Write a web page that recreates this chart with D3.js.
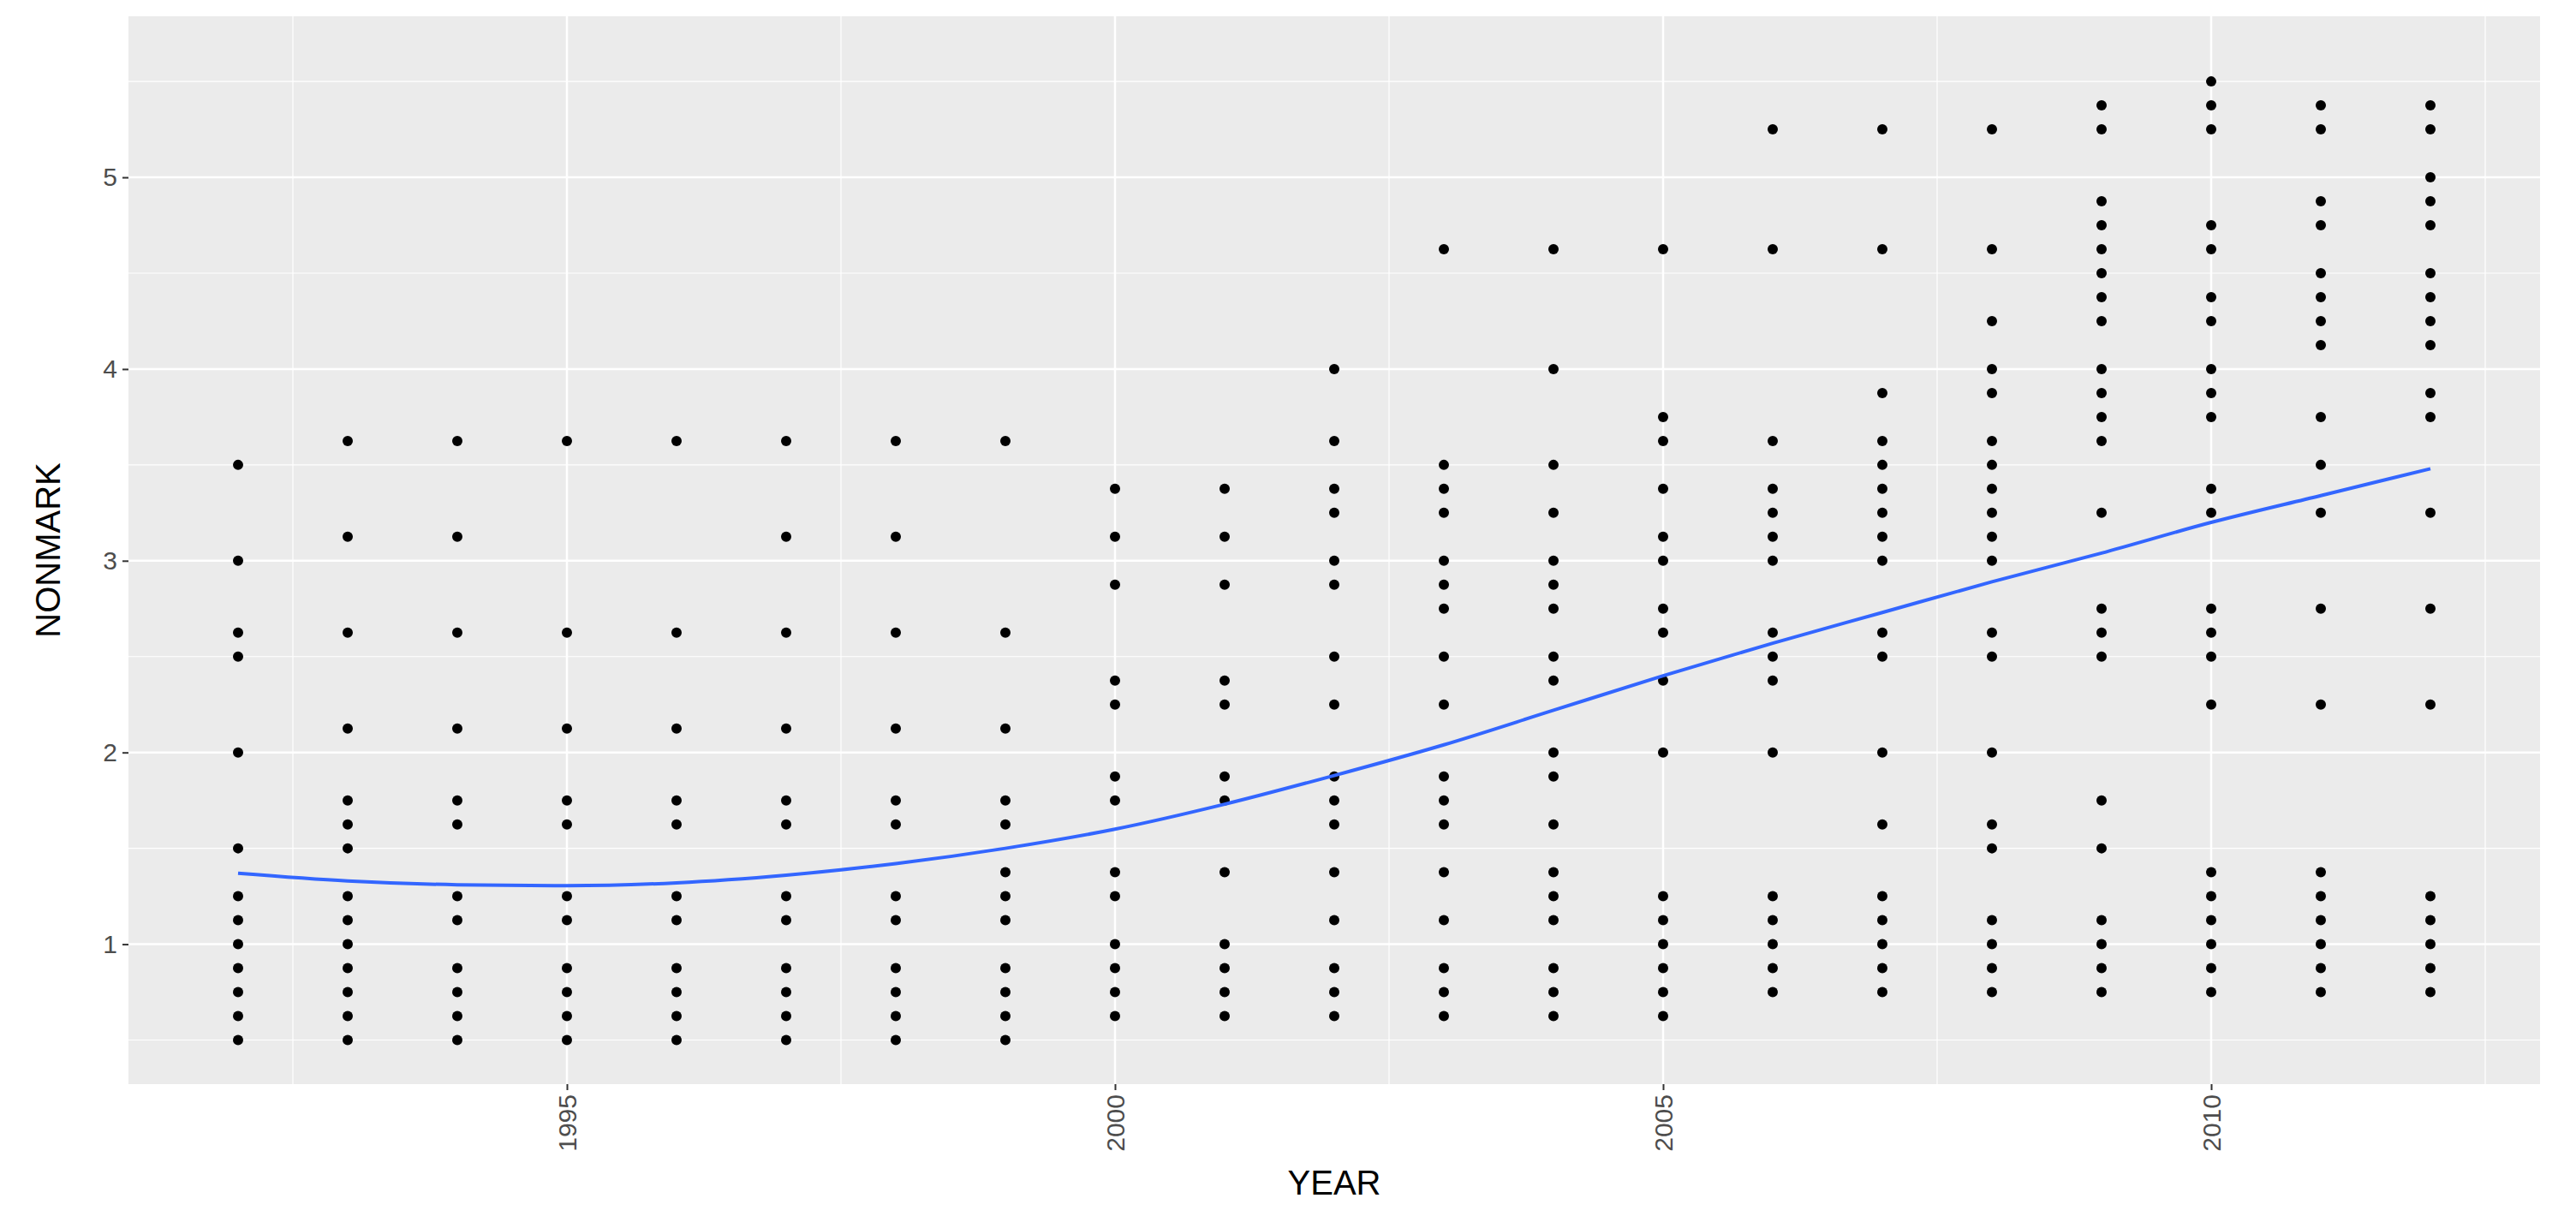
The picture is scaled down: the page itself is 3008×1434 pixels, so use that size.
<!DOCTYPE html>
<html><head><meta charset="utf-8">
<script src="https://cdn.jsdelivr.net/npm/d3@7"></script>
<style>body{margin:0;background:#fff}</style>
</head><body><div id="chart"></div>
<script>
const years = d3.range(1992, 2013);
const nonmark = [
  [3.5,3,2.625,2.5,2,1.5,1.25,1.125,1,0.875,0.75,0.625,0.5],
  [3.625,3.125,2.625,2.125,1.75,1.625,1.5,1.25,1.125,1,0.875,0.75,0.625,0.5],
  [3.625,3.125,2.625,2.125,1.75,1.625,1.25,1.125,0.875,0.75,0.625,0.5],
  [3.625,2.625,2.125,1.75,1.625,1.25,1.125,0.875,0.75,0.625,0.5],
  [3.625,2.625,2.125,1.75,1.625,1.25,1.125,0.875,0.75,0.625,0.5],
  [3.625,3.125,2.625,2.125,1.75,1.625,1.25,1.125,0.875,0.75,0.625,0.5],
  [3.625,3.125,2.625,2.125,1.75,1.625,1.25,1.125,0.875,0.75,0.625,0.5],
  [3.625,2.625,2.125,1.75,1.625,1.375,1.25,1.125,0.875,0.75,0.625,0.5],
  [3.375,3.125,2.875,2.375,2.25,1.875,1.75,1.375,1.25,1,0.875,0.75,0.625],
  [3.375,3.125,2.875,2.375,2.25,1.875,1.75,1.375,1,0.875,0.75,0.625],
  [4,3.625,3.375,3.25,3,2.875,2.5,2.25,1.875,1.75,1.625,1.375,1.125,0.875,0.75,0.625],
  [4.625,3.5,3.375,3.25,3,2.875,2.75,2.5,2.25,1.875,1.75,1.625,1.375,1.125,0.875,0.75,0.625],
  [4.625,4,3.5,3.25,3,2.875,2.75,2.5,2.375,2,1.875,1.625,1.375,1.25,1.125,0.875,0.75,0.625],
  [4.625,3.75,3.625,3.375,3.125,3,2.75,2.625,2.375,2,1.25,1.125,1,0.875,0.75,0.625],
  [5.25,4.625,3.625,3.375,3.25,3.125,3,2.625,2.5,2.375,2,1.25,1.125,1,0.875,0.75],
  [5.25,4.625,3.875,3.625,3.5,3.375,3.25,3.125,3,2.625,2.5,2,1.625,1.25,1.125,1,0.875,0.75],
  [5.25,4.625,4.25,4,3.875,3.625,3.5,3.375,3.25,3.125,3,2.625,2.5,2,1.625,1.5,1.125,1,0.875,0.75],
  [5.375,5.25,4.875,4.75,4.625,4.5,4.375,4.25,4,3.875,3.75,3.625,3.25,2.75,2.625,2.5,1.75,1.5,1.125,1,0.875,0.75],
  [5.5,5.375,5.25,4.75,4.625,4.375,4.25,4,3.875,3.75,3.375,3.25,2.75,2.625,2.5,2.25,1.375,1.25,1.125,1,0.875,0.75],
  [5.375,5.25,4.875,4.75,4.5,4.375,4.25,4.125,3.75,3.5,3.25,2.75,2.25,1.375,1.25,1.125,1,0.875,0.75],
  [5.375,5.25,5,4.875,4.75,4.5,4.375,4.25,4.125,3.875,3.75,3.25,2.75,2.25,1.25,1.125,1,0.875,0.75]
];
const smooth = [1.37,1.33,1.31,1.305,1.32,1.36,1.42,1.50,1.60,1.73,1.88,2.04,2.22,2.40,2.57,2.73,2.89,3.04,3.20,3.34,3.48];
const xTicks = [1995, 2000, 2005, 2010];
const yTicks = [1, 2, 3, 4, 5];

const W = 3008, H = 1434;
const m = {left: 150, right: 42, top: 19, bottom: 168};
const iw = W - m.left - m.right, ih = H - m.top - m.bottom;

const svg = d3.select("#chart").append("svg").attr("width", W).attr("height", H);
const g = svg.append("g").attr("transform", `translate(${m.left},${m.top})`);

const x = d3.scaleLinear().domain([1991, 2013]).range([0, iw]);
const y = d3.scaleLinear().domain([0.27, 5.84]).range([ih, 0]);

g.append("rect").attr("width", iw).attr("height", ih).attr("fill", "#ebebeb");

// minor grid
const xMinor = d3.range(1992.5, 2013, 5), yMinor = d3.range(0.5, 6, 1);
g.selectAll(".xm").data(xMinor).join("line")
  .attr("x1", d => x(d)).attr("x2", d => x(d)).attr("y1", 0).attr("y2", ih)
  .attr("stroke", "#fff").attr("stroke-width", 1.2);
g.selectAll(".ym").data(yMinor).join("line")
  .attr("y1", d => y(d)).attr("y2", d => y(d)).attr("x1", 0).attr("x2", iw)
  .attr("stroke", "#fff").attr("stroke-width", 1.2);
// major grid
g.selectAll(".xg").data(xTicks).join("line")
  .attr("x1", d => x(d)).attr("x2", d => x(d)).attr("y1", 0).attr("y2", ih)
  .attr("stroke", "#fff").attr("stroke-width", 2.5);
g.selectAll(".yg").data(yTicks).join("line")
  .attr("y1", d => y(d)).attr("y2", d => y(d)).attr("x1", 0).attr("x2", iw)
  .attr("stroke", "#fff").attr("stroke-width", 2.5);

const pts = years.flatMap((yr, i) => nonmark[i].map(v => ({yr, v})));
g.selectAll(".pt").data(pts).join("circle")
  .attr("cx", d => x(d.yr)).attr("cy", d => y(d.v)).attr("r", 6).attr("fill", "#000");

g.append("path").datum(years.map((yr, i) => [yr, smooth[i]]))
  .attr("fill", "none").attr("stroke", "#3366ff").attr("stroke-width", 4)
  .attr("d", d3.line().x(d => x(d[0])).y(d => y(d[1])).curve(d3.curveMonotoneX));

const font = "Liberation Sans, Arial, sans-serif";
const yAxis = g.append("g").call(d3.axisLeft(y).tickValues(yTicks).tickFormat(d3.format("d")).tickSize(7).tickPadding(6));
const xAxis = g.append("g").attr("transform", `translate(0,${ih})`)
  .call(d3.axisBottom(x).tickValues(xTicks).tickFormat(d3.format("d")).tickSize(7).tickPadding(6));
[yAxis, xAxis].forEach(a => {
  a.select(".domain").remove();
  a.selectAll(".tick line").attr("stroke", "#333").attr("stroke-width", 2);
  a.selectAll("text").attr("fill", "#4d4d4d").attr("font-size", 30).attr("font-family", font);
});
xAxis.selectAll("text").attr("transform", "rotate(-90)")
  .attr("text-anchor", "end").attr("x", -12).attr("y", 0).attr("dy", "0.35em");

svg.append("text").attr("x", m.left + iw / 2).attr("y", 1395).attr("text-anchor", "middle")
  .attr("font-size", 40).attr("font-family", font).attr("fill", "#000").text("YEAR");
svg.append("text").attr("transform", `translate(${70},${m.top + ih / 2}) rotate(-90)`)
  .attr("text-anchor", "middle").attr("font-size", 40).attr("font-family", font)
  .attr("fill", "#000").text("NONMARK");
</script></body></html>
